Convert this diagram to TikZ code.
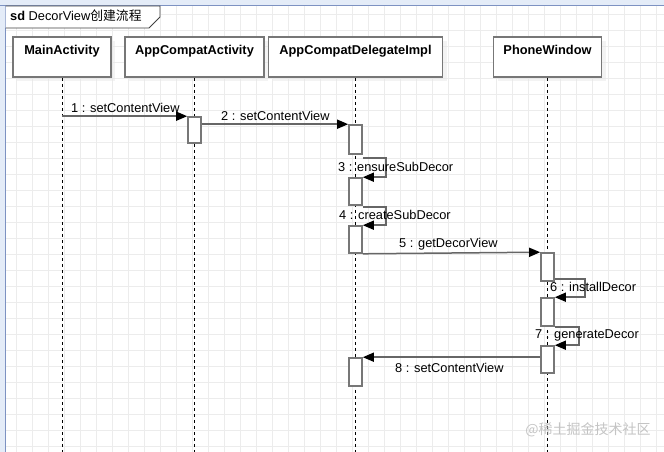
\documentclass[tikz,border=0pt]{standalone}
\usepackage{fontspec}
\setmainfont{Liberation Sans}
\newfontfamily\cjk{Noto Sans CJK SC}
\usepackage{tikz}
\usetikzlibrary{arrows.meta}
\usetikzlibrary{calc}
\usetikzlibrary{shadows}

\definecolor{gridgray}{HTML}{ECECEC}
\definecolor{rulerfill}{HTML}{E4ECF8}
\definecolor{rulerline}{HTML}{7D92C2}
\definecolor{boxgray}{HTML}{777777}
\definecolor{msggray}{HTML}{666666}
\definecolor{markgray}{HTML}{C4C4C4}

\tikzset{
	gridline/.style={draw=gridgray, line width=0.6pt},
	head/.style={draw=boxgray, fill=white, line width=1.6pt, font=\fontsize{12.8}{14}\selectfont\bfseries,
		inner ysep=4pt, text height=14pt, text depth=18pt, minimum height=40pt,
		drop shadow={shadow xshift=4pt, shadow yshift=-4pt, fill=black!9, draw=none}},
	act/.style={draw=boxgray, fill=white, line width=1.6pt, minimum width=13pt, inner sep=0pt},
	lifeline/.style={draw=black, line width=0.8pt, dash pattern=on 3pt off 3pt},
	msg/.style={draw=msggray, line width=1.5pt, -{Triangle[length=11pt, width=9pt, color=black]}},
	msglabel/.style={anchor=base west, inner sep=0pt, font=\fontsize{12.8}{14}\selectfont}
}

\begin{document}
\begin{tikzpicture}[x=1pt, y=-1pt]
		\useasboundingbox (0, 0) rectangle (664, 452);

		% background grid
		\foreach \gx in {0,...,41}
			\draw[gridline] (16*\gx+0.7, 0) -- (16*\gx+0.7, 452);
		\foreach \gy in {0,...,27}
			\draw[gridline] (0, 16*\gy+14.7) -- (664, 16*\gy+14.7);

		% rulers
		\fill[rulerfill] (0, 0) rectangle (664, 5.5);
		\fill[rulerfill] (0, 0) rectangle (5.5, 452);
		\draw[rulerline, line width=1.5pt] (0, 5.5) -- (664, 5.5);
		\draw[rulerline, line width=1.5pt] (5.5, 5.5) -- (5.5, 452);

		% frame tab
		\draw[fill=white, draw=black!75, line width=0.9pt] (5.5, 6) -- (160, 6) -- (160, 17) -- (149, 28) -- (5.5, 28);
		\node[msglabel] (title) at (10, 21) {{\bfseries sd} DecorView{\cjk 创建流程}};

		% lifeline heads
		\node[head, minimum width=98pt] (main) at (62, 57) {MainActivity};
		\node[head, minimum width=139pt] (compat) at (194.5, 57) {AppCompatActivity};
		\node[head, minimum width=174pt] (deleg) at (355.5, 57) {AppCompatDelegateImpl};
		\node[head, minimum width=108pt] (phone) at (547.5, 57) {PhoneWindow};

		\coordinate (mainEnd) at (62, 452);
		\coordinate (compatEnd) at (194.5, 452);
		\coordinate (delegEnd) at (355.5, 452);
		\coordinate (phoneEnd) at (547.5, 452);

		% lifelines
		\draw[lifeline] (main.south) -- (mainEnd);
		\draw[lifeline] (compat.south) -- (compatEnd);
		\draw[lifeline] (deleg.south) -- (delegEnd);
		\draw[lifeline] (phone.south) -- (phoneEnd);

		% activations
		\node[act, minimum height=26pt] (a1) at (194.5, 130) {};
		\node[act, minimum height=29pt] (d1) at (355.5, 139.5) {};
		\node[act, minimum height=27pt] (d2) at (355.5, 191.5) {};
		\node[act, minimum height=27pt] (d3) at (355.5, 239.5) {};
		\node[act, minimum height=28pt] (p1) at (547.5, 267) {};
		\node[act, minimum height=28pt] (p2) at (547.5, 312) {};
		\node[act, minimum height=27pt] (p3) at (547.5, 359.5) {};
		\node[act, minimum height=28pt] (d4) at (355.5, 372) {};

		% messages
		\draw[msg] (main |- a1.north west) -- (a1.north west);
		\draw[msg] (a1.east |- d1.north west) -- (d1.north west);
		\draw[msg] ([yshift=-3pt]d1.south east) -- ++(23, 0) |- (d2.north east);
		\draw[msg] ([yshift=-1pt]d2.south east) -- ++(23, 0) |- (d3.north east);
		\draw[msg] (d3.south east) -- (p1.north west);
		\draw[msg] ([yshift=3pt]p1.south east) -- ++(30, 0) |- (p2.north east);
		\draw[msg] (p2.south east) -- ++(24, 0) |- (p3.north east);
		\draw[msg] (p3.west |- d4.north east) -- (d4.north east);

		% message labels
		\node[msglabel] (l1) at (71, 112) {1 : setContentView};
		\node[msglabel] (l2) at (221, 120) {2 : setContentView};
		\node[msglabel] (l3) at (338, 171) {3 : ensureSubDecor};
		\node[msglabel] (l4) at (339, 219) {4 : createSubDecor};
		\node[msglabel] (l5) at (399, 247) {5 : getDecorView};
		\node[msglabel] (l6) at (550, 291) {6 : installDecor};
		\node[msglabel] (l7) at (535, 338) {7 : generateDecor};
		\node[msglabel] (l8) at (395, 372) {8 : setContentView};

		% watermark
		\node[text=markgray, font=\cjk\fontsize{14}{16}\selectfont, inner sep=0pt] (mark) at (588, 430) {@稀土掘金技术社区};
\end{tikzpicture}
\end{document}
